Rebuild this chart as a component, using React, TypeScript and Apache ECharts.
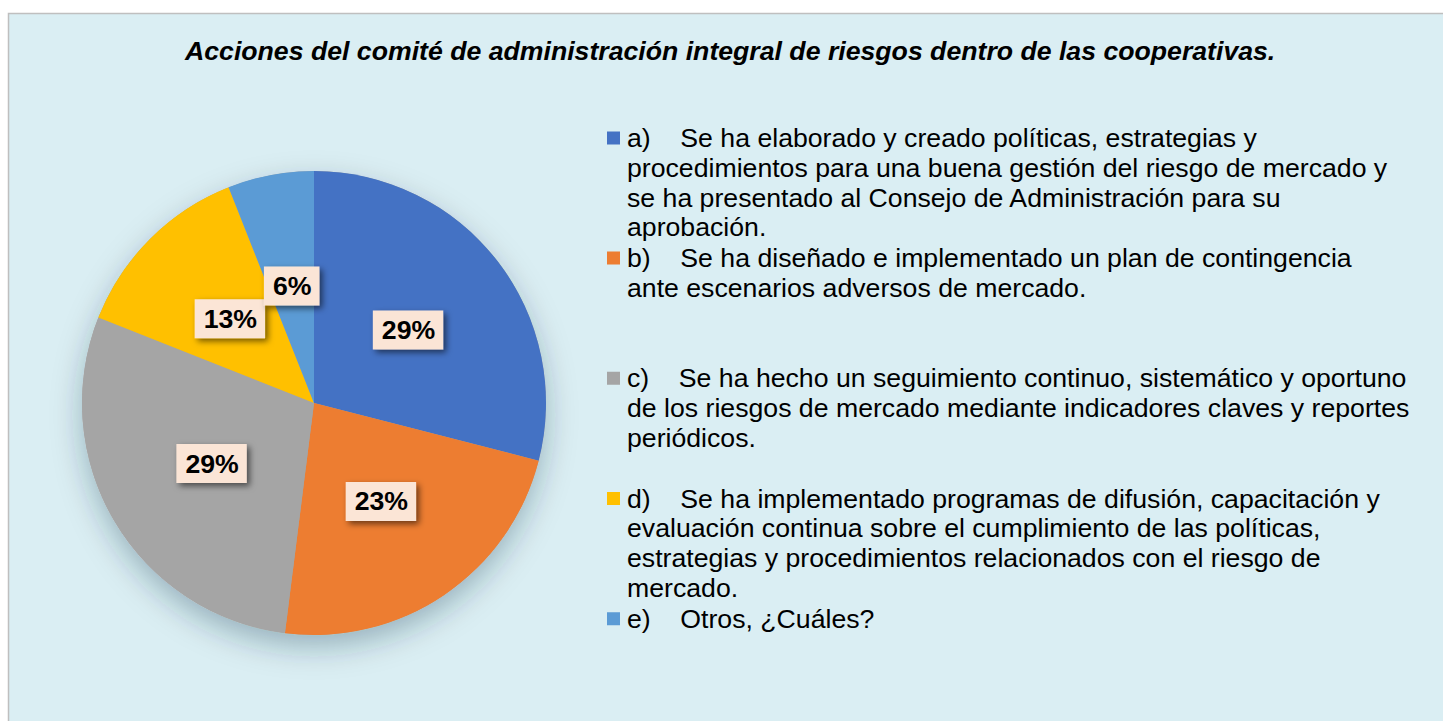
import React, { useEffect, useRef } from 'react';
import * as echarts from 'echarts';

const titleText = 'Acciones del comité de administración integral de riesgos dentro de las cooperativas.';

const categories = [
  'a) Se ha elaborado y creado políticas, estrategias y procedimientos para una buena gestión del riesgo de mercado y se ha presentado al Consejo de Administración para su aprobación.',
  'b) Se ha diseñado e implementado un plan de contingencia ante escenarios adversos de mercado.',
  'c) Se ha hecho un seguimiento continuo, sistemático y oportuno de los riesgos de mercado mediante indicadores claves y reportes periódicos.',
  'd) Se ha implementado programas de difusión, capacitación y evaluación continua sobre el cumplimiento de las políticas, estrategias y procedimientos relacionados con el riesgo de mercado.',
  'e) Otros, ¿Cuáles?',
];

const legendLines = [
  ['a)    Se ha elaborado y creado políticas, estrategias y', 'procedimientos para una buena gestión del riesgo de mercado y', 'se ha presentado al Consejo de Administración para su', 'aprobación.'],
  ['b)    Se ha diseñado e implementado un plan de contingencia', 'ante escenarios adversos de mercado.'],
  ['c)    Se ha hecho un seguimiento continuo, sistemático y oportuno', 'de los riesgos de mercado mediante indicadores claves y reportes', 'periódicos.'],
  ['d)    Se ha implementado programas de difusión, capacitación y', 'evaluación continua sobre el cumplimiento de las políticas,', 'estrategias y procedimientos relacionados con el riesgo de', 'mercado.'],
  ['e)    Otros, ¿Cuáles?'],
];

const percentValues = [29, 23, 29, 13, 6];
const sliceColors = ['#4472C4', '#ED7D31', '#A5A5A5', '#FFC000', '#5B9BD5'];

const FONT = '"Liberation Sans", Arial, sans-serif';
const FS = 26.67;
const LH = 29.8;
const LINES_PER_ITEM = 4;

export default function App() {
  const ref = useRef<HTMLDivElement>(null);
  useEffect(() => {
    document.body.style.margin = '0';
    document.body.style.overflow = 'hidden';
    const chart = echarts.init(ref.current!, undefined, { renderer: 'svg' });
    const H = LH * LINES_PER_ITEM;
    const sq = LH / 2 - 6.5;
    const iconPath = `path://M0 0L0.01 0M15 ${H}L14.99 ${H}M0 ${sq}L13 ${sq}L13 ${sq + 13}L0 ${sq + 13}Z`;
    const data = categories.map((name, i) => ({
      name,
      value: percentValues[i],
      itemStyle: { color: sliceColors[i] },
    }));
    chart.setOption({
      animation: false,
      backgroundColor: '#ffffff',
      graphic: [
        {
          type: 'rect',
          silent: true,
          z: 0,
          shape: { x: 8.5, y: 13.5, width: 1460, height: 730 },
          style: { fill: '#DAEEF3', stroke: '#BFBFBF', lineWidth: 1.5 },
        },
      ],
      title: {
        text: titleText,
        left: 185,
        top: 37,
        padding: 0,
        textStyle: {
          fontFamily: FONT,
          fontSize: FS,
          fontWeight: 'bold',
          fontStyle: 'italic',
          color: '#000',
        },
      },
      legend: {
        orient: 'vertical',
        left: 607,
        top: 123,
        height: 640,
        padding: 0,
        itemWidth: 15,
        itemHeight: H,
        itemGap: 1,
        icon: iconPath,
        selectedMode: false,
        itemStyle: { borderWidth: 0 },
        data: categories,
        formatter: (name: string) => {
          const idx = categories.indexOf(name);
          const lines = legendLines[idx].slice();
          while (lines.length < LINES_PER_ITEM) lines.push('');
          return lines.join('\n');
        },
        textStyle: {
          fontFamily: FONT,
          fontSize: FS,
          lineHeight: LH,
          color: '#000',
        },
      },
      series: [
        {
          type: 'pie',
          name: 'shadow',
          silent: true,
          center: [314, 403],
          radius: 232,
          z: 1,
          data: [{ value: 1, name: '__shadow__' }],
          itemStyle: {
            color: '#A5A5A5',
            borderWidth: 0,
            shadowBlur: 30,
            shadowOffsetY: 12,
            shadowColor: 'rgba(0,40,60,0.3)',
          },
          label: { show: false },
          labelLine: { show: false },
          emphasis: { disabled: true },
        },
        {
          type: 'pie',
          name: 'Acciones',
          center: [314, 403],
          radius: 232,
          startAngle: 90,
          clockwise: true,
          z: 2,
          data,
          itemStyle: { borderWidth: 0 },
          emphasis: { disabled: true },
          labelLayout: { hideOverlap: false },
          label: {
            show: true,
            position: 'inside',
            formatter: (p: any) => `${Math.round(p.percent)}%`,
            fontFamily: FONT,
            fontSize: FS,
            fontWeight: 'bold',
            color: '#000',
            backgroundColor: '#FBE5D6',
            padding: [6, 8, 6, 9],
            shadowColor: 'rgba(0,0,0,0.55)',
            shadowBlur: 6,
            shadowOffsetX: 3,
            shadowOffsetY: 3,
          },
          labelLine: { show: false },
        },
      ],
    });
    return () => chart.dispose();
  }, []);
  return <div ref={ref} style={{ position: 'absolute', left: 0, top: 0, width: 1443, height: 721 }} />;
}
